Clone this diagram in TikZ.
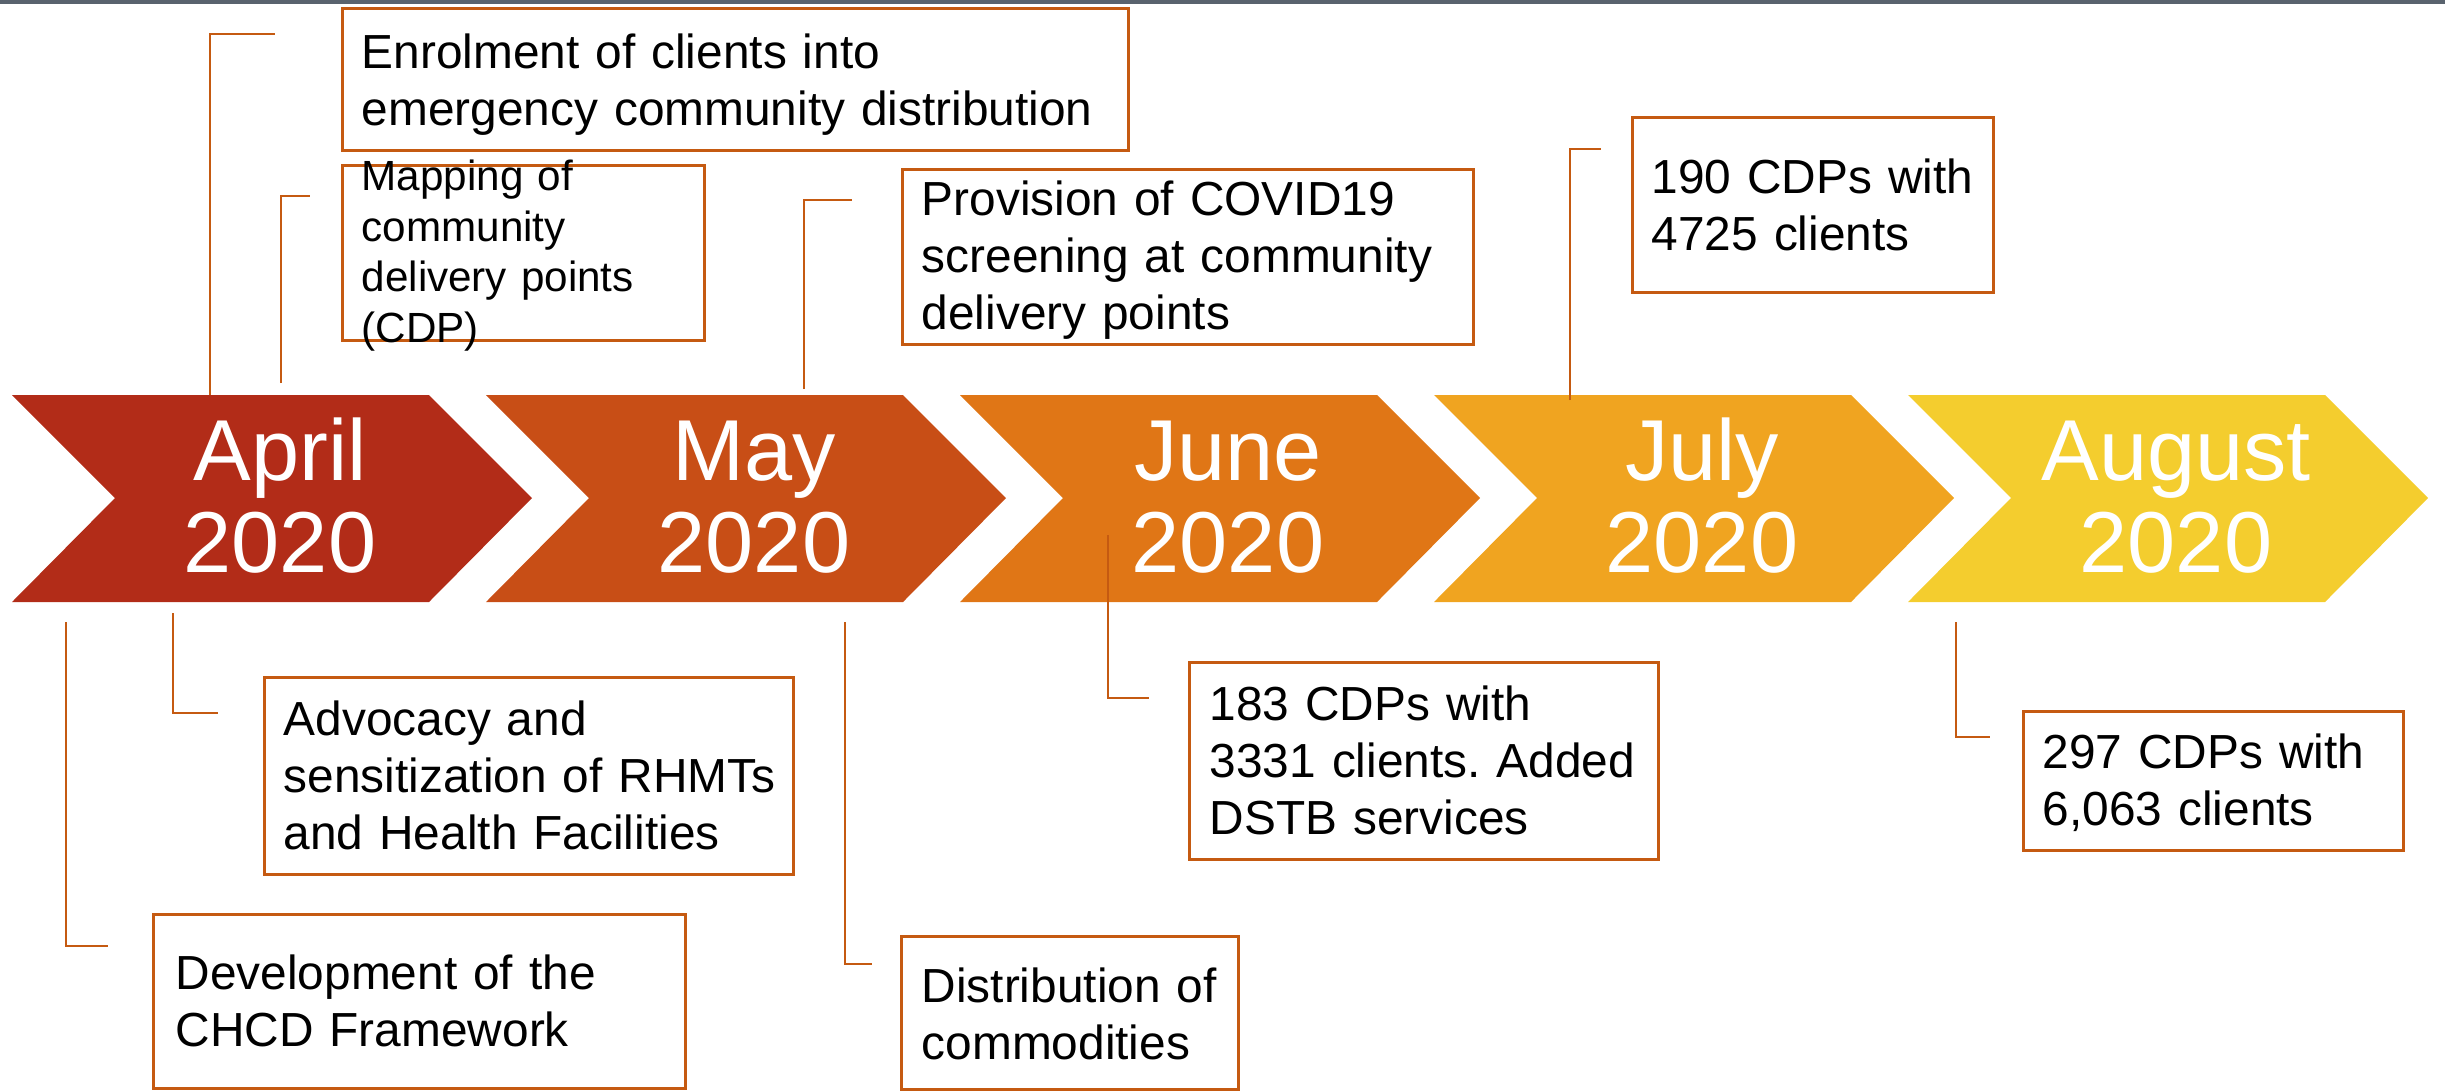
\documentclass[tikz,border=0pt]{standalone}
\usepackage{fontspec}
\setmainfont{Liberation Sans}
\frenchspacing
\definecolor{barc}{RGB}{89,99,110}
\definecolor{aprc}{RGB}{178,44,24}
\definecolor{mayc}{RGB}{200,78,22}
\definecolor{junc}{RGB}{224,118,22}
\definecolor{julc}{RGB}{240,164,32}
\definecolor{augc}{RGB}{244,205,46}
\definecolor{linec}{RGB}{197,90,17}
\begin{document}
\begin{tikzpicture}[x=0.01cm,y=-0.01cm,
  month/.style={text=white, font=\fontsize{24.6}{26.2}\selectfont, align=center,
    text width=4cm, inner sep=0pt, anchor=base},
  callout/.style={draw=linec, line width=0.75pt, inner sep=0pt, anchor=north west},
  note/.style={font=\fontsize{13.6}{16.3}\selectfont, align=left, text width=9cm,
    inner sep=0pt, anchor=base west},
  smallnote/.style={note, font=\fontsize{12}{14.5}\selectfont},
  conn/.style={draw=linec, line width=0.6pt}
]
\useasboundingbox (0,0) rectangle (2445,1090);
\fill[barc] (0,0) rectangle (2445,4);

% chevrons: left edge L, notch depth 103, top width 417, tip at L+520
\foreach \L/\c in {12/aprc,486/mayc,960/junc,1434/julc,1908/augc}
  \fill[\c] (\L,395) -- (\L+417,395) -- (\L+520,498) -- (\L+417,602)
            -- (\L,602) -- (\L+103,498) -- cycle;

\node[month] (apr) at (280,480) {April\\2020};
\node[month] (may) at (754,480) {May\\2020};
\node[month] (jun) at (1228,480) {June\\2020};
\node[month] (jul) at (1702,480) {July\\2020};
\node[month] (aug) at (2176,480) {August\\2020};

% callout frames
\node[callout, minimum width=7.86cm, minimum height=1.42cm] (enrolbox) at (341,7) {};
\node[callout, minimum width=3.62cm, minimum height=1.75cm] (mapbox) at (341,164) {};
\node[callout, minimum width=5.71cm, minimum height=1.75cm] (provbox) at (901,168) {};
\node[callout, minimum width=3.61cm, minimum height=1.75cm] (julbox) at (1631,116) {};
\node[callout, minimum width=5.29cm, minimum height=1.97cm] (advbox) at (263,676) {};
\node[callout, minimum width=5.32cm, minimum height=1.74cm] (devbox) at (152,913) {};
\node[callout, minimum width=3.37cm, minimum height=1.53cm] (distbox) at (900,935) {};
\node[callout, minimum width=4.69cm, minimum height=1.97cm] (junbox) at (1188,661) {};
\node[callout, minimum width=3.80cm, minimum height=1.39cm] (augbox) at (2022,710) {};

% callout texts
\node[note] (enroltxt) at (361,68) {Enrolment of clients into\\emergency community distribution};
\node[smallnote] (maptxt) at (361,190) {Mapping of\\community\\delivery points\\(CDP)};
\node[note] (provtxt) at (921,215) {Provision of COVID19\\screening at community\\delivery points};
\node[note] (jultxt) at (1651,193) {190 CDPs with\\4725 clients};
\node[note] (advtxt) at (283,735) {Advocacy and\\sensitization of RHMTs\\and Health Facilities};
\node[note] (devtxt) at (175,989) {Development of the\\CHCD Framework};
\node[note] (disttxt) at (921,1002) {Distribution of\\commodities};
\node[note] (juntxt) at (1209,720) {183 CDPs with\\3331 clients. Added\\DSTB services};
\node[note] (augtxt) at (2042,768) {297 CDPs with\\6,063 clients};

% leader lines
\coordinate (e1) at (210,395);  \coordinate (e2) at (275,34);
\coordinate (m1) at (281,383);  \coordinate (m2) at (310,196);
\coordinate (p1) at (804,389);  \coordinate (p2) at (852,200);
\coordinate (j1) at (1570,400); \coordinate (j2) at (1601,149);
\coordinate (a1) at (173,613);  \coordinate (a2) at (218,713);
\coordinate (d1) at (66,622);   \coordinate (d2) at (108,946);
\coordinate (s1) at (845,622);  \coordinate (s2) at (872,964);
\coordinate (n1) at (1108,535); \coordinate (n2) at (1149,698);
\coordinate (g1) at (1956,622); \coordinate (g2) at (1990,737);
\foreach \a/\b in {e1/e2,m1/m2,p1/p2,j1/j2,a1/a2,d1/d2,s1/s2,n1/n2,g1/g2}
  \draw[conn] (\a) |- (\b);
\end{tikzpicture}
\end{document}
